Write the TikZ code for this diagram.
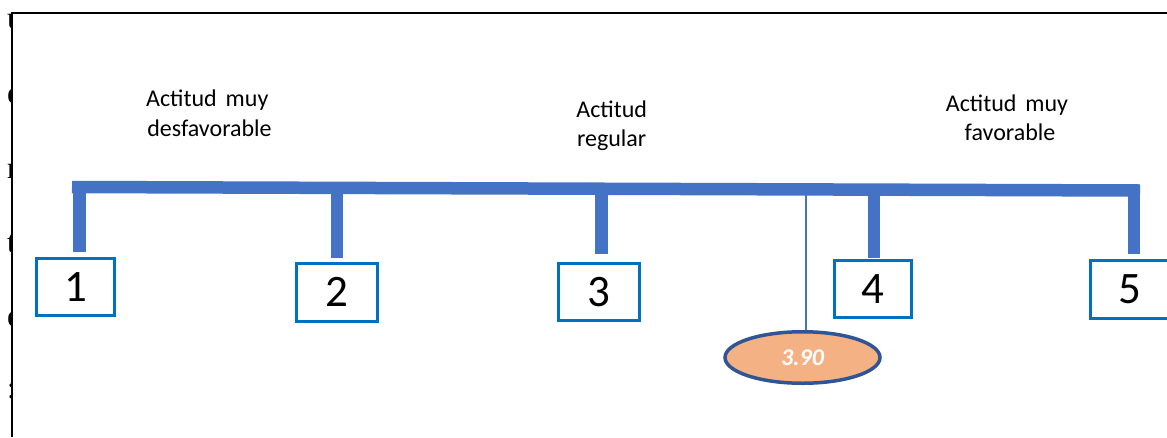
\documentclass[tikz,border=0pt]{standalone}
\usepackage{fontspec}
\newfontfamily\calfont{Carlito}
\newfontfamily\timesfont{Liberation Serif}
\usetikzlibrary{shapes.geometric}
\definecolor{barblue}{HTML}{4472C4}
\definecolor{boxblue}{HTML}{0070C0}
\definecolor{ellfill}{HTML}{F4B183}
\definecolor{ellline}{HTML}{2F5597}
\begin{document}
\begin{tikzpicture}[x=1pt,y=-1pt,
  numbox/.style={draw=boxblue,line width=3pt,fill=white,inner sep=0pt,font=\calfont\fontsize{45}{54}\selectfont},
  stem/.style={draw=barblue,line width=12.5pt},
  lbl/.style={font=\calfont\fontsize{24}{29}\selectfont,inner sep=0pt,anchor=base},
  edgeletter/.style={font=\timesfont\fontsize{31}{36}\selectfont,inner sep=0pt,anchor=base west}]
\useasboundingbox (0,0) rectangle (1167,437);
\fill[white] (0,0) rectangle (1167,437);
% clipped letters at the left edge
\begin{scope}
  \clip (0,0) rectangle (12.3,437);
  \node[edgeletter] (e1) at (6.8,28) {u};
  \node[edgeletter] (e2) at (6.8,103) {e};
  \node[edgeletter] (e3) at (6.8,178) {r};
  \node[edgeletter] (e4) at (6.8,252) {t};
  \node[edgeletter] (e5) at (6.8,326) {e};
  \node[edgeletter] (e6) at (6.8,398) {:};
\end{scope}
\draw[line width=1.8pt] (12.3,437) -- (12.3,12.7) -- (1167,12.7);
% labels
\node[lbl] (la1) at (207.3,106.7) {Actitud\hspace{3.5pt} muy};
\node[lbl] (la2) at (209.5,136) {desfavorable};
\node[lbl] (lb1) at (611.7,117) {Actitud};
\node[lbl] (lb2) at (611.7,146) {regular};
\node[lbl] (lc1) at (1007,111.7) {Actitud\hspace{3.5pt} muy};
\node[lbl] (lc2) at (1010,140) {favorable};
% bar
\coordinate (barL) at (72,187);
\coordinate (barR) at (1140,190.5);
\draw[barblue,line width=12.5pt] (barL) -- (barR);
% stems
\coordinate (t1) at (79.5,187);   \coordinate (s1) at (79.5,252);
\coordinate (t2) at (337,187.9);  \coordinate (s2) at (337,258.3);
\coordinate (t3) at (601.7,188.7);\coordinate (s3) at (601.7,254);
\coordinate (t4) at (874,189.6);  \coordinate (s4) at (874,258.3);
\coordinate (t5) at (1134,190.5); \coordinate (s5) at (1134,254);
\draw[stem] (t1) -- (s1);
\draw[stem] (t2) -- (s2);
\draw[stem] (t3) -- (s3);
\draw[stem] (t4) -- (s4);
\draw[stem] (t5) -- (s5);
% boxes
\node[numbox,minimum width=78pt,minimum height=57pt] (n1) at (75.5,287) {1};
\node[numbox,minimum width=81pt,minimum height=58pt] (n2) at (337,292.2) {2};
\node[numbox,minimum width=80.5pt,minimum height=57pt] (n3) at (599.2,292) {3};
\node[numbox,minimum width=77.6pt,minimum height=56.7pt] (n4) at (873,289.2) {4};
\node[numbox,minimum width=79pt,minimum height=58pt] (n5) at (1130,289.7) {5};
% value marker
\coordinate (vt) at (806,189.4);
\node[ellipse,draw=ellline,line width=3.5pt,fill=ellfill,minimum width=155pt,minimum height=51.5pt,inner sep=0pt,text=white,font=\calfont\bfseries\itshape\fontsize{24}{29}\selectfont] (val) at (802.5,357.5) {\raisebox{-1.5pt}{3.90}};
\draw[barblue,line width=2pt] (vt) -- (vt |- val.north);
\end{tikzpicture}
\end{document}
